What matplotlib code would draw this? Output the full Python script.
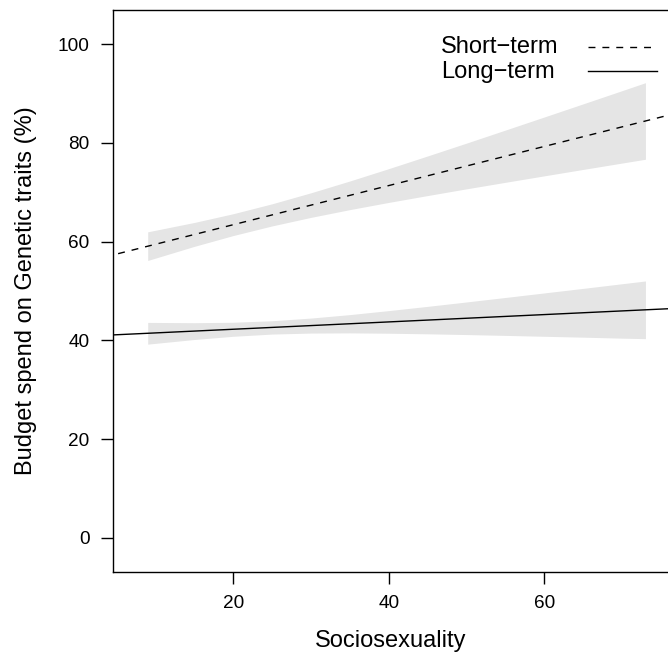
import matplotlib
matplotlib.use("Agg")
import matplotlib.pyplot as plt

plt.rcParams['font.family'] = ['Liberation Sans', 'DejaVu Sans']

# confidence bands
band_x = [9, 15, 20, 25, 30, 35, 40, 45, 50, 55, 60, 65, 70, 73]
short_upper = [61.98, 63.88, 65.65, 67.66, 69.89, 72.28, 74.78, 77.35, 79.95, 82.59, 85.24, 87.90, 90.57, 92.18]
short_lower = [56.18, 59.04, 61.23, 63.18, 64.91, 66.48, 67.94, 69.33, 70.69, 72.01, 73.32, 74.62, 75.91, 76.68]
long_upper = [43.64, 43.58, 43.67, 43.98, 44.52, 45.22, 46.03, 46.89, 47.78, 48.69, 49.61, 50.53, 51.47, 52.03]
long_lower = [39.24, 40.18, 40.83, 41.28, 41.48, 41.52, 41.45, 41.33, 41.18, 41.01, 40.83, 40.65, 40.45, 40.35]

# fitted lines (run across the whole plot)
line_x = [0, 80]
short_line = [55.5, 87.2]
long_line = [40.77, 46.71]

x_ticks = [20, 40, 60]
y_ticks = [0, 20, 40, 60, 80, 100]

fig = plt.figure(figsize=(6.68, 6.55), dpi=100)
ax = fig.add_axes([112.7 / 668, 1 - 572 / 655, 1 - 112.7 / 668, (572 - 10) / 655])

ax.fill_between(band_x, short_lower, short_upper, color='#e5e5e5', lw=0)
ax.fill_between(band_x, long_lower, long_upper, color='#e5e5e5', lw=0)
ax.plot(line_x, short_line, color='black', lw=1, dashes=(5, 5))
ax.plot(line_x, long_line, color='black', lw=1)

ax.set_xlim(4.5, 75.9)
ax.set_ylim(-6.9, 106.9)
ax.set_xticks(x_ticks)
ax.set_yticks(y_ticks)
ax.tick_params(length=8.6, width=1, labelsize=13.7, pad=8)
ax.spines['right'].set_visible(False)
for s in ['left', 'bottom', 'top']:
    ax.spines[s].set_linewidth(1)

ax.set_xlabel('Sociosexuality', fontsize=17, labelpad=13)
ax.set_ylabel('Budget spend on Genetic traits (%)', fontsize=17, labelpad=15)

# legend drawn by hand: text on the left, line sample on the right
fig.text(441 / 668, 1 - 47 / 655, 'Short\u2212term', fontsize=17, va='center', ha='left')
fig.text(441 / 668, 1 - 72 / 655, 'Long\u2212term', fontsize=17, va='center', ha='left')
fig.add_artist(plt.Line2D([588 / 668, 657 / 668], [1 - 47 / 655] * 2, color='black', lw=1, dashes=(5, 5)))
fig.add_artist(plt.Line2D([588 / 668, 657 / 668], [1 - 71 / 655] * 2, color='black', lw=1))

fig.savefig('out.png', dpi=100)
